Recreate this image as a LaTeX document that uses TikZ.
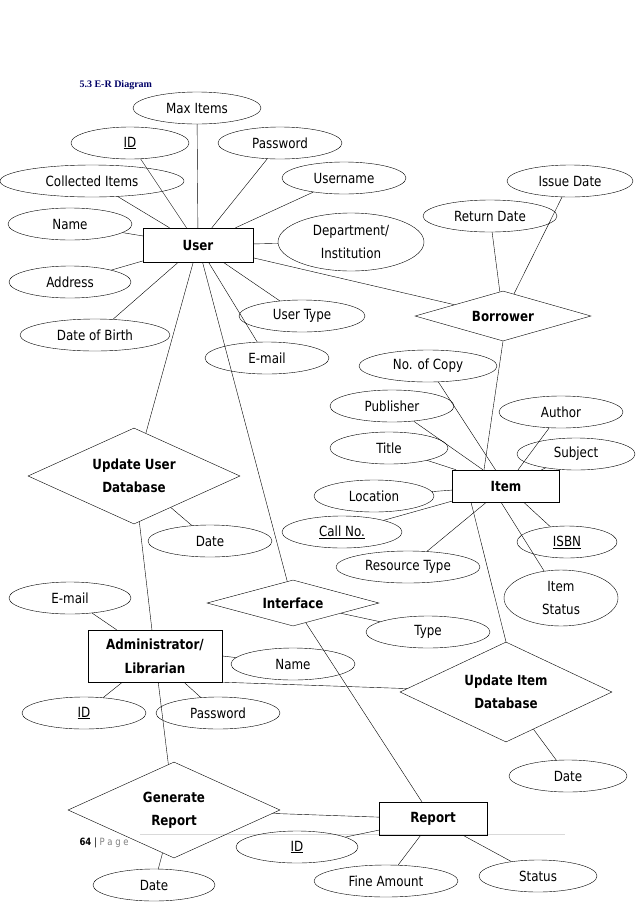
\documentclass[tikz,border=0pt]{standalone}
\usepackage{fontspec}
\setmainfont{DejaVu Sans}[FakeStretch=0.85]
\usetikzlibrary{shapes.geometric}
\begin{document}
\begin{tikzpicture}[x=1pt,y=-1pt,font=\fontsize{14}{16}\selectfont,
 att/.style={ellipse,draw,inner sep=0pt,minimum height=32pt},
 ent/.style={rectangle,draw,font=\fontsize{14}{16}\selectfont\bfseries,inner sep=0pt},
 rel/.style={diamond,draw,aspect=3,inner sep=0pt,align=center,font=\fontsize{14}{23}\selectfont\bfseries},
 line/.style={draw,black}]
\useasboundingbox (0,0) rectangle (638,903);
\node[anchor=west,font=\fontsize{10}{12}\selectfont\bfseries\rmfamily,text=blue!40!black] (t) at (76,85) {\fontspec{Liberation Serif}5.3 E-R Diagram};
\draw[gray!30] (140,834) -- (565,834);
\node[anchor=west,font=\fontsize{10}{12}\selectfont] (pg) at (76,843) {\textbf{64} | \textcolor{gray}{P a g e}};
% entities
\node[ent,minimum width=110pt,minimum height=34pt] (user) at (198,245) {User};
\node[ent,minimum width=107pt,minimum height=32pt] (item) at (506,486) {Item};
\node[ent,minimum width=134pt,minimum height=52pt,align=center,font=\fontsize{14}{24}\selectfont\bfseries] (admin) at (155,656) {Administrator/\\Librarian};
\node[ent,minimum width=108pt,minimum height=33pt] (report) at (433,819) {Report};
% relations
\node[rel,minimum width=176pt,minimum height=50pt] (borrow) at (503,316) {Borrower};
\node[rel,minimum width=212pt,minimum height=96pt] (uud) at (134,476) {Update User\\Database};
\node[rel,minimum width=172pt,minimum height=46pt] (iface) at (293,603) {Interface};
\node[rel,minimum width=212pt,minimum height=100pt] (uid) at (506,692) {Update Item\\Database};
\node[rel,minimum width=212pt,minimum height=96pt] (gen) at (174,810) {Generate\\Report};
% attributes
\node[att,minimum width=128pt] (maxi) at (197,108) {Max Items};
\node[att,minimum width=118pt] (uid1) at (130,143) {\underline{ID}};
\node[att,minimum width=124pt] (upw) at (280,143) {Password};
\node[att,minimum width=184pt] (coll) at (92,181) {Collected Items};
\node[att,minimum width=124pt] (uname) at (344,178) {Username};
\node[att,minimum width=126pt] (idate) at (570,181) {Issue Date};
\node[att,minimum width=124pt] (name) at (70,224) {Name};
\node[att,minimum width=134pt] (rdate) at (490,216) {Return Date};
\node[att,minimum width=146pt,minimum height=58pt,align=center,font=\fontsize{14}{23}\selectfont] (dept) at (351,242) {Department/\\Institution};
\node[att,minimum width=122pt] (addr) at (70,282) {Address};
\node[att,minimum width=126pt] (utype) at (302,316) {User Type};
\node[att,minimum width=150pt] (dob) at (95,335) {Date of Birth};
\node[att,minimum width=124pt] (umail) at (267,358) {E-mail};
\node[att,minimum width=138pt] (copy) at (428,366) {No. of Copy};
\node[att,minimum width=124pt] (pub) at (392,406) {Publisher};
\node[att,minimum width=124pt] (auth) at (561,412) {Author};
\node[att,minimum width=118pt] (title) at (389,448) {Title};
\node[att,minimum width=118pt] (subj) at (576,454) {Subject};
\node[att,minimum width=120pt] (loc) at (374,496) {Location};
\node[att,minimum width=120pt] (call) at (342,532) {\underline{Call No.}};
\node[att,minimum width=100pt] (isbn) at (567,542) {\underline{ISBN}};
\node[att,minimum width=144pt] (rtype) at (408,567) {Resource Type};
\node[att,minimum width=114pt,minimum height=56pt,align=center,font=\fontsize{14}{23}\selectfont] (istat) at (561,598) {Item\\Status};
\node[att,minimum width=122pt] (amail) at (70,598) {E-mail};
\node[att,minimum width=124pt] (udate) at (210,541) {Date};
\node[att,minimum width=124pt] (type) at (428,632) {Type};
\node[att,minimum width=124pt] (aname) at (293,664) {Name};
\node[att,minimum width=124pt] (aid) at (84,713) {\underline{ID}};
\node[att,minimum width=124pt] (apw) at (218,713) {Password};
\node[att,minimum width=118pt] (idate2) at (568,776) {Date};
\node[att,minimum width=122pt] (rid) at (297,847) {\underline{ID}};
\node[att,minimum width=144pt] (fine) at (386,881) {Fine Amount};
\node[att,minimum width=118pt] (stat) at (538,876) {Status};
\node[att,minimum width=122pt] (gdate) at (154,885) {Date};
% connectors
\foreach \a in {maxi,uid1,upw,uname,coll,name,addr,dob,dept,utype,umail,borrow,uud,iface}
  \draw[line] (user) -- (\a);
\foreach \a in {rdate,idate} \draw[line] (borrow) -- (\a);
\draw[line] (borrow.south) -- ([xshift=-22pt]item.north);
\foreach \a in {copy,pub,auth,title,subj,loc,call,isbn,rtype} \draw[line] (item) -- (\a);
\draw[line] ([xshift=-5pt]item.south) -- (istat);
\draw[line] ([xshift=-35pt]item.south) -- (uid.north);
\draw[line] (uud) -- (udate);
\draw[line] (uud) -- (admin);
\draw[line] (iface) -- (type);
\draw[line] (iface) -- (report);
\foreach \a in {amail,aid,apw,gen} \draw[line] (admin) -- (\a);
\draw[line] (admin.east) -- (aname);
\draw[line] (admin.south east) -- (uid);
\draw[line] (uid) -- (idate2);
\draw[line] (gen) -- (report);
\draw[line] (gen) -- (gdate);
\foreach \a in {rid,fine,stat} \draw[line] (report) -- (\a);
\end{tikzpicture}
\end{document}
